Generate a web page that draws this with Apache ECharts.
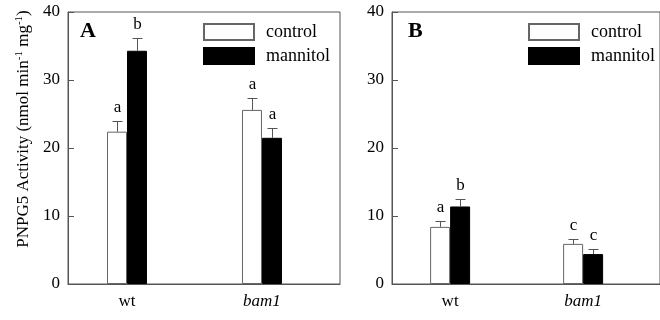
<!DOCTYPE html>
<html><head><meta charset="utf-8">
<script src="https://cdn.jsdelivr.net/npm/echarts@6/dist/echarts.min.js"></script>
<style>html,body{margin:0;padding:0;background:#fff}#c{width:660px;height:320px}</style>
</head><body><div id="c"></div>
<script>
const categories = ['wt', 'bam1'];
const seriesNames = ['control', 'mannitol'];
const panelLabels = ['A', 'B'];
const yTickLabels = ['0', '10', '20', '30', '40'];

const panelA_control = [22.4, 25.6];
const panelA_controlErr = [1.6, 1.8];
const panelA_mannitol = [34.3, 21.5];
const panelA_mannitolErr = [1.9, 1.5];
const panelA_controlLetters = ['a', 'a'];
const panelA_mannitolLetters = ['b', 'a'];

const panelB_control = [8.4, 5.9];
const panelB_controlErr = [0.9, 0.7];
const panelB_mannitol = [11.4, 4.4];
const panelB_mannitolErr = [1.1, 0.7];
const panelB_controlLetters = ['a', 'c'];
const panelB_mannitolLetters = ['b', 'c'];

const FONT = '"Liberation Serif", "Times New Roman", serif';
const LINE = '#555';
const BAR_W = 20;

const panels = [
  { vals: [panelA_control, panelA_mannitol], errs: [panelA_controlErr, panelA_mannitolErr], letters: [panelA_controlLetters, panelA_mannitolLetters] },
  { vals: [panelB_control, panelB_mannitol], errs: [panelB_controlErr, panelB_mannitolErr], letters: [panelB_controlLetters, panelB_mannitolLetters] }
];

const gridLefts = [68, 392];
const grids = gridLefts.map(l => ({ left: l, top: 12, width: 272, height: 272, show: true, borderColor: LINE, borderWidth: 1, backgroundColor: 'transparent' }));

const xAxes = gridLefts.map((l, i) => ({
  type: 'value', gridIndex: i, min: 0.563, max: 2.578,
  splitLine: { show: false }, axisTick: { show: false },
  axisLine: { show: true, lineStyle: { color: LINE } },
  axisLabel: {
    customValues: categories.map((c, k) => k + 1),
    margin: 9, color: '#000', fontSize: 17, fontFamily: FONT,
    formatter: v => { const k = Math.round(v) - 1; return k === 1 ? '{i|' + categories[k] + '}' : categories[k]; },
    rich: { i: { fontStyle: 'italic', fontSize: 17, fontFamily: FONT, color: '#000' } }
  }
}));

const yAxes = gridLefts.map((l, i) => ({
  type: 'value', gridIndex: i, min: 0, max: 40, interval: 10,
  splitLine: { show: false },
  axisLine: { show: true, lineStyle: { color: LINE } },
  axisTick: { show: true, inside: true, length: 6, lineStyle: { color: LINE } },
  axisLabel: { margin: 8, color: '#000', fontSize: 17, fontFamily: FONT, formatter: v => yTickLabels[v / 10] },
  name: i === 0 ? 'PNPG5 Activity (nmol min{s|-1} mg{s|-1})' : '',
  nameLocation: 'middle', nameRotate: 90, nameGap: 35,
  nameTextStyle: {
    color: '#000', fontSize: 17, fontFamily: FONT, padding: [0, 0, 0, 38],
    rich: { s: { fontSize: 11, fontFamily: FONT, color: '#000', verticalAlign: 'top', padding: [0, 0, 8, 0] } }
  }
}));

const series = [];
panels.forEach((p, pi) => {
  seriesNames.forEach((name, si) => {
    series.push({
      type: 'bar', name: name, xAxisIndex: pi, yAxisIndex: pi,
      barWidth: BAR_W, barGap: '0%',
      itemStyle: si === 0 ? { color: '#fff', borderColor: '#666', borderWidth: 1 } : { color: '#000', borderColor: '#000', borderWidth: 1 },
      data: p.vals[si].map((v, k) => [k + 1, v]),
      silent: true
    });
  });
  seriesNames.forEach((name, si) => {
    const offset = si === 0 ? -BAR_W / 2 : BAR_W / 2;
    const letters = p.letters[si];
    series.push({
      type: 'custom', name: 'err_' + pi + '_' + si, xAxisIndex: pi, yAxisIndex: pi, z: 5,
      data: p.vals[si].map((v, k) => [k + 1, v, p.errs[si][k]]),
      renderItem: (params, api) => {
        const x = api.value(0), v = api.value(1), e = api.value(2);
        const b = api.coord([x, v]);
        const t = api.coord([x, v + e]);
        const cx = Math.round(b[0] + offset) + 0.5;
        const ty = Math.round(t[1]) + 0.5;
        return { type: 'group', children: [
          { type: 'line', shape: { x1: cx, y1: b[1], x2: cx, y2: ty }, style: { stroke: LINE, lineWidth: 1 } },
          { type: 'line', shape: { x1: cx - 5, y1: ty, x2: cx + 5, y2: ty }, style: { stroke: LINE, lineWidth: 1 } },
          { type: 'text', x: cx, y: ty - 5, style: { text: letters[params.dataIndex], font: '17px ' + FONT, fill: '#000', align: 'center', verticalAlign: 'bottom' } }
        ] };
      }
    });
  });
});

const legends = [203, 528].map(l => ({
  left: l, top: 23, orient: 'vertical', itemWidth: 50, itemHeight: 16, itemGap: 6,
  icon: 'rect', selectedMode: false, padding: 0, data: seriesNames,
  textStyle: { fontSize: 18, fontFamily: FONT, color: '#000', lineHeight: 16, padding: [0, 0, 0, 7] }
}));

const titles = panelLabels.map((t, i) => ({
  text: t, left: [80, 408][i], top: 20, padding: 0,
  textStyle: { fontSize: 22, fontWeight: 'bold', fontFamily: FONT, color: '#000' }
}));

const chart = echarts.init(document.getElementById('c'), null, { renderer: 'canvas' });
chart.setOption({
  animation: false, backgroundColor: '#fff',
  title: titles, legend: legends, grid: grids,
  xAxis: xAxes, yAxis: yAxes, series: series
});
</script></body></html>
